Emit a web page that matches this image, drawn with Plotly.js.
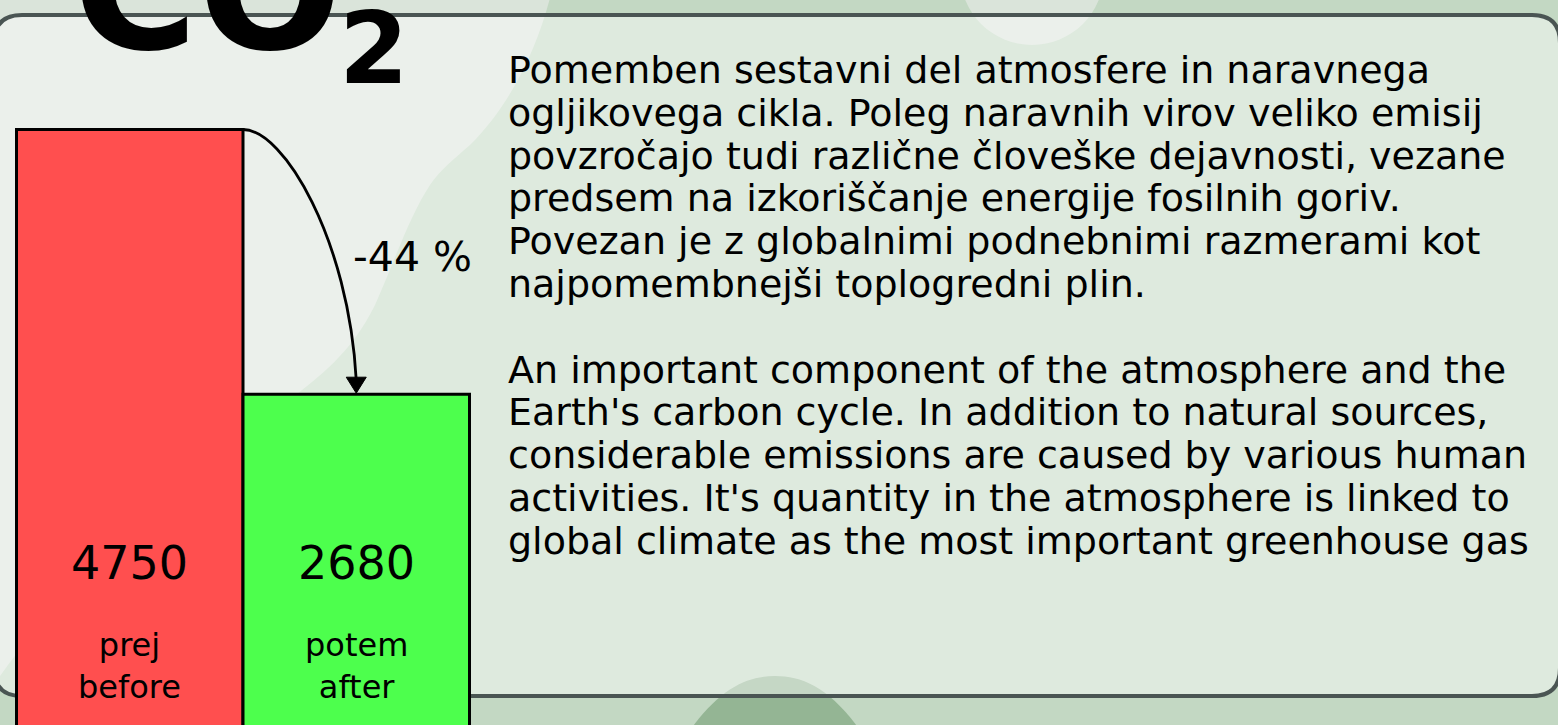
<!DOCTYPE html>
<html>
<head>
<meta charset="utf-8">
<script src="https://cdn.plot.ly/plotly-3.0.1.min.js"></script>
<style>html,body{margin:0;padding:0;background:#c3d8c3;overflow:hidden}</style>
</head>
<body>
<div id="chart" style="width:1558px;height:725px"></div>
<script>
// ---- data ----
const titleMain = 'CO';
const titleSub = '2';
const labelsSl = ['prej', 'potem'];
const labelsEn = ['before', 'after'];
const values = [4750, 2680];
const barColors = ['#ff4f4f', '#4dff4d'];
const textSl = [
  'Pomemben sestavni del atmosfere in naravnega',
  'ogljikovega cikla. Poleg naravnih virov veliko emisij',
  'povzročajo tudi različne človeške dejavnosti, vezane',
  'predsem na izkoriščanje energije fosilnih goriv.',
  'Povezan je z globalnimi podnebnimi razmerami kot',
  'najpomembnejši toplogredni plin.'
];
const textEn = [
  'An important component of the atmosphere and the',
  "Earth's carbon cycle. In addition to natural sources,",
  'considerable emissions are caused by various human',
  "activities. It's quantity in the atmosphere is linked to",
  'global climate as the most important greenhouse gas'
];

// ---- layout helpers ----
const W = 1558, H = 725;
const pxPerX = 226.5, pxPerY = 0.12787;
const x0 = -0.5 - 16.5 / pxPerX, x1 = x0 + W / pxPerX;
const y0 = values[0] - (H - 129.5) / pxPerY, y1 = y0 + H / pxPerY;
const px = v => v / W, py = v => 1 - v / H;
const P = (x, y) => px(x) + ',' + py(y);
const dX = p => p / pxPerX, dY = p => p / pxPerY;

const lightBlob = '#dae4da';
const darkBlob = '#94b594';

const shapes = [
  { type: 'path', xref: 'paper', yref: 'paper', layer: 'below', fillcolor: lightBlob, line: { width: 0 },
    path: 'M' + P(-10, -10) + ' L' + P(552, -10) + ' C' + P(540, 40) + ' ' + P(515, 100) + ' ' + P(470, 145) +
      ' C' + P(455, 158) + ' ' + P(440, 170) + ' ' + P(430, 185) +
      ' C' + P(410, 215) + ' ' + P(395, 260) + ' ' + P(375, 305) +
      ' C' + P(350, 355) + ' ' + P(320, 375) + ' ' + P(290, 400) +
      ' C' + P(200, 470) + ' ' + P(80, 560) + ' ' + P(-10, 690) + ' Z' },
  { type: 'circle', xref: 'paper', yref: 'paper', layer: 'below', fillcolor: lightBlob, line: { width: 0 },
    x0: px(1032 - 72), x1: px(1032 + 72), y0: py(-27 + 72), y1: py(-27 - 72) },
  { type: 'path', xref: 'paper', yref: 'paper', layer: 'below', fillcolor: darkBlob, line: { width: 0 },
    path: 'M' + P(680, 745) + ' C' + P(715, 690) + ' ' + P(745, 676) + ' ' + P(775, 676) +
      ' C' + P(805, 676) + ' ' + P(835, 690) + ' ' + P(870, 745) + ' Z' },
  { type: 'path', xref: 'paper', yref: 'paper', layer: 'below', fillcolor: 'rgba(255,255,255,0.46)',
    line: { color: '#4a5553', width: 4 },
    path: 'M' + P(22, 15) + ' L' + P(1532, 15) + ' Q' + P(1560, 15) + ' ' + P(1560, 43) +
      ' L' + P(1560, 668) + ' Q' + P(1560, 696) + ' ' + P(1532, 696) +
      ' L' + P(22, 696) + ' Q' + P(-6, 696) + ' ' + P(-6, 668) +
      ' L' + P(-6, 43) + ' Q' + P(-6, 15) + ' ' + P(22, 15) + ' Z' }
];

// arrow from top of first bar to top of second bar
const ax0 = 0.5, ay0 = values[0];
const ax1 = 1, ay1 = values[1];
shapes.push({
  type: 'path', xref: 'x', yref: 'y', layer: 'above', line: { color: '#000', width: 2.8 },
  path: 'M' + ax0 + ',' + ay0 + ' C' + (ax0 + dX(41)) + ',' + ay0 + ' ' + (ax1 - dX(7.5)) + ',' + (ay1 + dY(154)) +
    ' ' + ax1 + ',' + (ay1 + dY(14))
});
shapes.push({
  type: 'path', xref: 'x', yref: 'y', layer: 'above', fillcolor: '#000', line: { color: '#000', width: 1 },
  path: 'M' + (ax1 - dX(10)) + ',' + (ay1 + dY(17)) + ' L' + (ax1 + dX(10)) + ',' + (ay1 + dY(17)) +
    ' L' + ax1 + ',' + (ay1 + dY(1)) + ' Z'
});

const bodyFont = { family: 'DejaVu Sans', size: 38, color: '#000' };
const annotations = [];
function addLine(t, i) {
  annotations.push({ xref: 'paper', yref: 'paper', x: px(506), y: py(70 + 42.8 * i), xanchor: 'left', yanchor: 'middle',
    text: t, showarrow: false, font: bodyFont });
}
textSl.forEach((t, i) => addLine(t, i));
textEn.forEach((t, i) => addLine(t, i + 7));

annotations.push({ xref: 'paper', yref: 'paper', x: px(207.5), y: py(-10), xanchor: 'center', yanchor: 'middle',
  text: titleMain, showarrow: false, font: { family: 'DejaVu Sans', size: 170, weight: 700, color: '#000' } });
annotations.push({ xref: 'paper', yref: 'paper', x: px(373.5), y: py(49), xanchor: 'center', yanchor: 'middle',
  text: titleSub, showarrow: false, font: { family: 'DejaVu Sans', size: 100, weight: 700, color: '#000' } });

const pct = Math.round((values[1] - values[0]) / values[0] * 100);
annotations.push({ xref: 'paper', yref: 'paper', x: px(412), y: py(257), xanchor: 'center', yanchor: 'middle',
  text: pct + ' %', showarrow: false, font: { family: 'DejaVu Sans', size: 41, color: '#000' } });

values.forEach((v, i) => {
  annotations.push({ xref: 'x', yref: 'paper', x: i, y: py(563), xanchor: 'center', yanchor: 'middle',
    text: String(v), showarrow: false, font: { family: 'DejaVu Sans', size: 46, color: '#000' } });
  annotations.push({ xref: 'x', yref: 'paper', x: i, y: py(666), xanchor: 'center', yanchor: 'middle',
    text: labelsSl[i] + '<br>' + labelsEn[i], showarrow: false, font: { family: 'DejaVu Sans', size: 32, color: '#000' } });
});

const trace = {
  type: 'bar', x: [0, 1], y: values, width: 1,
  marker: { color: barColors, line: { color: '#000', width: 3 } },
  hoverinfo: 'skip', cliponaxis: true
};

const layout = {
  width: W, height: H,
  margin: { l: 0, r: 0, t: 0, b: 0, pad: 0 },
  paper_bgcolor: '#c3d8c3', plot_bgcolor: 'rgba(0,0,0,0)',
  showlegend: false, bargap: 0,
  xaxis: { range: [x0, x1], visible: false, fixedrange: true },
  yaxis: { range: [y0, y1], visible: false, fixedrange: true },
  shapes: shapes, annotations: annotations
};

Plotly.newPlot('chart', [trace], layout, { displayModeBar: false, staticPlot: true });
</script>
</body>
</html>
